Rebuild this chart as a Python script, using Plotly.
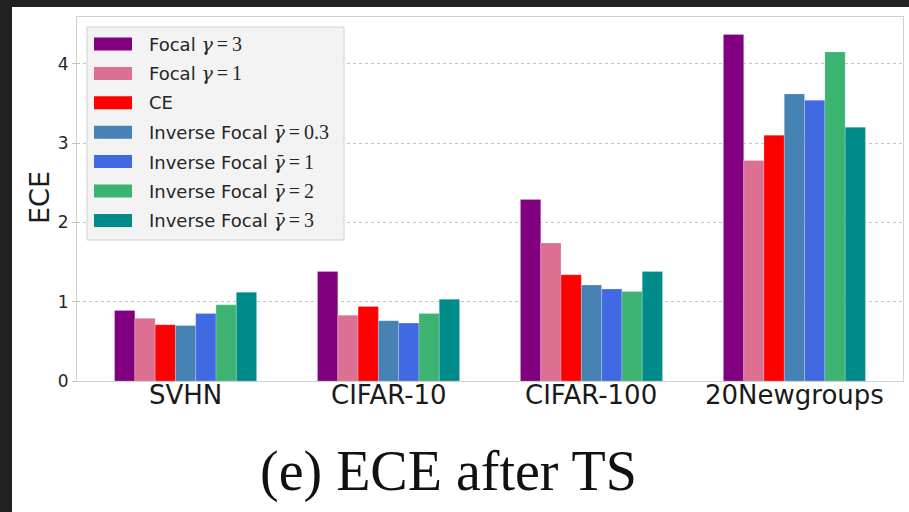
import plotly.graph_objects as go

# ECE after temperature scaling, per dataset and loss
datasets = ["SVHN", "CIFAR-10", "CIFAR-100", "20Newgroups"]

focal_g3 = [0.89, 1.38, 2.29, 4.37]
focal_g1 = [0.79, 0.83, 1.74, 2.78]
ce = [0.71, 0.94, 1.34, 3.10]
inv_focal_03 = [0.70, 0.76, 1.21, 3.62]
inv_focal_1 = [0.85, 0.73, 1.16, 3.54]
inv_focal_2 = [0.96, 0.85, 1.13, 4.15]
inv_focal_3 = [1.12, 1.03, 1.38, 3.20]

y_ticks = [0, 1, 2, 3, 4]

SERIF = "Liberation Serif"
THIN = "\u2009"


def math(sym, rest):
    return (f'<span style="font-family:DejaVu Serif;font-size:19px"><i>{sym}</i></span>'
            f'<span style="font-family:{SERIF};font-size:20px">{THIN}={THIN}{rest}</span>')


GAMMA = "γ"
GBAR = "γ\u0304"

series = [
    ("Focal " + math(GAMMA, "3"), focal_g3, "#800080"),
    ("Focal " + math(GAMMA, "1"), focal_g1, "#db7093"),
    ("CE", ce, "#ff0000"),
    ("Inverse Focal " + math(GBAR, "0.3"), inv_focal_03, "#4682b4"),
    ("Inverse Focal " + math(GBAR, "1"), inv_focal_1, "#4169e1"),
    ("Inverse Focal " + math(GBAR, "2"), inv_focal_2, "#3cb371"),
    ("Inverse Focal " + math(GBAR, "3"), inv_focal_3, "#008b8b"),
]

W, H = 909, 512
L, R, T, B = 77, 6, 17, 131
PW, PH = W - L - R, H - T - B


def px_x(x):
    return (x - L) / PW


def px_y(y):
    return (H - B - y) / PH


x_pos = list(range(len(datasets)))

fig = go.Figure()
for name, vals, color in series:
    fig.add_trace(go.Bar(
        x=x_pos, y=vals, name=name,
        marker=dict(color=color, line=dict(color="rgba(255,255,255,0.35)", width=0.6)),
        showlegend=False,
    ))

shapes = [
    # page background inside the dark frame
    dict(type="rect", xref="paper", yref="paper",
         x0=px_x(12), x1=px_x(W + 5), y0=px_y(H + 5), y1=px_y(7),
         fillcolor="white", line=dict(width=0), layer="below"),
    # legend box
    dict(type="rect", xref="paper", yref="paper",
         x0=px_x(87), x1=px_x(344), y0=px_y(240), y1=px_y(27),
         fillcolor="rgba(242,242,242,0.92)", line=dict(color="#d0d0d0", width=1),
         layer="above"),
]
annotations = []
for i, (name, vals, color) in enumerate(series):
    yc = 44 + 29.4 * i
    shapes.append(dict(type="rect", xref="paper", yref="paper",
                       x0=px_x(94), x1=px_x(132), y0=px_y(yc + 6.5), y1=px_y(yc - 6.5),
                       fillcolor=color, line=dict(width=0), layer="above"))
    annotations.append(dict(xref="paper", yref="paper", x=px_x(147), y=px_y(yc),
                            text=name, showarrow=False, xanchor="left", yanchor="middle",
                            font=dict(family="DejaVu Sans", size=18, color="#262626")))

# dataset labels under each group
for xi, label in zip(x_pos, datasets):
    annotations.append(dict(xref="x", yref="paper", x=xi, y=px_y(395),
                            text=label, showarrow=False,
                            xanchor="center", yanchor="middle",
                            font=dict(family="DejaVu Sans", size=26, color="#1a1a1a")))

annotations.append(dict(xref="paper", yref="paper", x=px_x(39), y=px_y(198),
                        text="ECE", textangle=-90, showarrow=False,
                        xanchor="center", yanchor="middle",
                        font=dict(family="DejaVu Sans", size=27, color="#1a1a1a")))
annotations.append(dict(xref="paper", yref="paper", x=px_x(448), y=px_y(471),
                        text="(e) ECE after TS", showarrow=False,
                        xanchor="center", yanchor="middle",
                        font=dict(family=SERIF, size=56, color="#111111")))

fig.update_layout(
    width=W, height=H,
    margin=dict(l=L, r=R, t=T, b=B, pad=0),
    paper_bgcolor="#212121",
    plot_bgcolor="white",
    barmode="group", bargap=0.3, bargroupgap=0,
    shapes=shapes, annotations=annotations,
    xaxis=dict(
        range=[-0.535, 3.535], tickvals=x_pos, showticklabels=False,
        showgrid=False, zeroline=False, ticks="",
        showline=True, linecolor="#d0d0d0", linewidth=1, mirror=True,
    ),
    yaxis=dict(
        range=[0, 4.59], tickvals=y_ticks,
        showgrid=True, gridcolor="#c4c4c4", griddash="dot", gridwidth=1,
        zeroline=False, ticks="outside", ticklen=4, tickcolor="#c0c0c0",
        showline=True, linecolor="#d0d0d0", linewidth=1, mirror=True,
        tickfont=dict(family="DejaVu Sans", size=17, color="#262626"),
    ),
)

fig.write_html("out.html")
